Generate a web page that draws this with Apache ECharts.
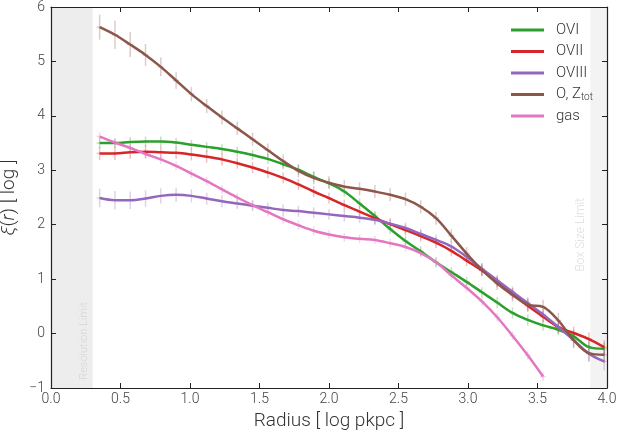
<!DOCTYPE html>
<html>
<head>
<meta charset="utf-8">
<script src="https://cdn.jsdelivr.net/npm/echarts@6/dist/echarts.min.js"></script>
<style>
html,body{margin:0;padding:0;background:#fff;}
#chart{width:617px;height:432px;}
</style>
</head>
<body>
<div id="chart"></div>
<script>
// Radius bins [log pkpc]
const radius = [0.35,0.46,0.57,0.68,0.79,0.90,1.01,1.12,1.23,1.34,1.45,1.56,1.67,1.78,1.89,2.00,2.11,2.22,2.33,2.44,2.55,2.66,2.77,2.88,2.99,3.10,3.21,3.32,3.43,3.54,3.65,3.76,3.87,3.98];

// xi(r) [log]
const ovi   = [3.50,3.50,3.52,3.53,3.53,3.51,3.47,3.43,3.39,3.34,3.28,3.21,3.11,3.01,2.88,2.76,2.61,2.39,2.16,1.92,1.70,1.51,1.31,1.13,0.95,0.76,0.57,0.38,0.25,0.15,0.07,-0.05,-0.25,-0.28];
const ovii  = [3.31,3.31,3.33,3.34,3.33,3.32,3.29,3.25,3.20,3.13,3.05,2.96,2.86,2.74,2.61,2.49,2.36,2.24,2.12,2.01,1.90,1.79,1.67,1.52,1.34,1.16,0.95,0.73,0.51,0.31,0.12,0.01,-0.10,-0.25];
const oviii = [2.49,2.45,2.45,2.48,2.53,2.55,2.53,2.48,2.43,2.39,2.35,2.31,2.27,2.25,2.22,2.19,2.16,2.13,2.09,2.02,1.94,1.83,1.72,1.60,1.41,1.19,0.98,0.77,0.56,0.35,0.12,-0.12,-0.37,-0.51];
const oZtot = [5.63,5.49,5.31,5.12,4.90,4.65,4.40,4.18,3.97,3.77,3.57,3.37,3.17,2.99,2.86,2.77,2.70,2.66,2.61,2.55,2.47,2.33,2.12,1.80,1.47,1.17,0.92,0.71,0.53,0.49,0.24,-0.12,-0.36,-0.39];
const gas   = [3.62,3.51,3.41,3.30,3.20,3.08,2.94,2.80,2.65,2.50,2.36,2.23,2.10,1.99,1.89,1.82,1.77,1.74,1.72,1.66,1.59,1.48,1.31,1.07,0.84,0.59,0.30,-0.04,-0.40,-0.79];

// error bar half-lengths
const errOvi   = [0.09,0.09,0.09,0.09,0.09,0.09,0.09,0.09,0.09,0.09,0.09,0.09,0.09,0.09,0.09,0.09,0.09,0.09,0.09,0.09,0.09,0.09,0.09,0.09,0.09,0.09,0.10,0.10,0.10,0.10,0.10,0.12,0.12,0.12];
const errOvii  = [0.12,0.12,0.12,0.12,0.11,0.11,0.11,0.11,0.11,0.10,0.10,0.10,0.10,0.10,0.10,0.10,0.10,0.10,0.10,0.10,0.10,0.10,0.10,0.10,0.10,0.10,0.10,0.10,0.10,0.10,0.11,0.12,0.12,0.13];
const errOviii = [0.17,0.17,0.16,0.15,0.14,0.13,0.12,0.11,0.11,0.10,0.10,0.10,0.10,0.10,0.10,0.10,0.10,0.10,0.10,0.10,0.10,0.10,0.10,0.10,0.10,0.10,0.10,0.10,0.10,0.11,0.12,0.13,0.15,0.17];
const errOZtot = [0.23,0.26,0.23,0.20,0.17,0.15,0.13,0.13,0.13,0.12,0.12,0.12,0.12,0.12,0.12,0.12,0.12,0.12,0.12,0.12,0.12,0.12,0.12,0.12,0.12,0.12,0.12,0.12,0.13,0.13,0.14,0.15,0.15,0.15];
const errGas   = [0.08,0.08,0.08,0.08,0.08,0.08,0.08,0.08,0.08,0.08,0.08,0.08,0.08,0.08,0.08,0.08,0.08,0.08,0.08,0.08,0.08,0.08,0.08,0.08,0.08,0.08,0.08,0.08,0.08,0.08];

const xTicks = [0.0,0.5,1.0,1.5,2.0,2.5,3.0,3.5,4.0];
const yTicks = [-1,0,1,2,3,4,5,6];
const resolutionLimit = [0.0, 0.3];
const boxSizeLimit = [3.88, 4.0];

const seriesDefs = [
  {name:'OVI', vals:ovi, err:errOvi, color:'#2ca02c'},
  {name:'OVII', vals:ovii, err:errOvii, color:'#d62728'},
  {name:'OVIII', vals:oviii, err:errOviii, color:'#9467bd'},
  {name:'O, Z{sub|tot}', vals:oZtot, err:errOZtot, color:'#8c564b'},
  {name:'gas', vals:gas, err:errGas, color:'#e377c2'}
];

const FONT = 'Roboto';
const FW = 300;
const chart = echarts.init(document.getElementById('chart'), null, {renderer:'canvas'});

const series = [];
seriesDefs.forEach(function(d){
  series.push({
    type:'custom',
    name: d.name + '_err',
    z: 1,
    silent: true,
    data: d.vals.map(function(v,i){ return [radius[i], v, d.err[i]]; }),
    renderItem: function(params, api){
      const x = api.value(0), y = api.value(1), e = api.value(2);
      const t = api.coord([x, y+e]);
      const b = api.coord([x, y-e]);
      const m = api.coord([x, y]);
      return {type:'group', children:[
        {type:'line', shape:{x1:t[0],y1:t[1],x2:b[0],y2:b[1]}, style:{stroke:d.color, lineWidth:1.5, opacity:0.3}},
        {type:'line', shape:{x1:m[0]-3,y1:m[1],x2:m[0]+3,y2:m[1]}, style:{stroke:d.color, lineWidth:1.5, opacity:0.3}}
      ]};
    }
  });
});
seriesDefs.forEach(function(d, idx){
  const s = {
    type:'line',
    name:d.name,
    z: 3,
    data: d.vals.map(function(v,i){ return [radius[i], v]; }),
    showSymbol:false,
    symbol:'none',
    smooth:0.35,
    lineStyle:{color:d.color, width:2.5},
    itemStyle:{color:d.color}
  };
  if (idx === 0) {
    s.markArea = {
      silent:true,
      z: 0,
      itemStyle:{color:'#eeeeee'},
      data:[
        [{xAxis:resolutionLimit[0], itemStyle:{color:'#ededed'}},{xAxis:resolutionLimit[1]}],
        [{xAxis:boxSizeLimit[0], itemStyle:{color:'#f3f3f3'}},{xAxis:boxSizeLimit[1]}]
      ]
    };
  }
  series.push(s);
});

const axisCommon = {
  axisLine:{show:true, onZero:false, lineStyle:{color:'#222', width:1.2}},
  axisTick:{show:true, inside:true, length:5, lineStyle:{color:'#222', width:1}},
  splitLine:{show:false}
};

const option = {
  animation:false,
  backgroundColor:'#fff',
  grid:{left:51, right:10, top:7, bottom:44, containLabel:false, outerBoundsMode:'none'},
  legend:{
    orient:'vertical',
    left:506, top:17,
    itemWidth:33, itemHeight:3,
    itemGap:5.5,
    icon:'rect',
    data: seriesDefs.map(function(d){ return d.name; }),
    formatter: function(n){ return n; },
    textStyle:{
      fontFamily:FONT, fontWeight:FW, fontSize:15, color:'#333', lineHeight:16, padding:[0,0,0,7],
      rich:{ sub:{fontFamily:FONT, fontWeight:FW, fontSize:10, color:'#333', verticalAlign:'bottom', padding:[6,0,0,0]} }
    }
  },
  xAxis:[
    Object.assign({}, axisCommon, {
      type:'value', min:xTicks[0], max:xTicks[xTicks.length-1], interval:0.5, position:'bottom',
      name:'Radius [ log pkpc ]', nameLocation:'middle', nameGap:24,
      nameTextStyle:{fontFamily:FONT, fontWeight:FW, fontSize:19, color:'#333'},
      axisLabel:{fontFamily:FONT, fontWeight:FW, fontSize:14, color:'#444', margin:4, formatter:function(v){ return v.toFixed(1); }}
    }),
    Object.assign({}, axisCommon, {
      type:'value', min:xTicks[0], max:xTicks[xTicks.length-1], interval:0.5, position:'top',
      axisLabel:{show:false}
    })
  ],
  yAxis:[
    Object.assign({}, axisCommon, {
      type:'value', min:yTicks[0], max:yTicks[yTicks.length-1], interval:1, position:'left',
      name:'{i|ξ}({i|r}) [ log ]', nameLocation:'middle', nameGap:28, nameRotate:90,
      nameTextStyle:{fontFamily:FONT, fontWeight:FW, fontSize:19, color:'#333',
        rich:{i:{fontFamily:FONT, fontWeight:FW, fontSize:19, fontStyle:'italic', color:'#333'}}},
      axisLabel:{fontFamily:FONT, fontWeight:FW, fontSize:14, color:'#444', margin:6, formatter:function(v){ return v < 0 ? '\u2212' + Math.abs(v) : String(v); }}
    }),
    Object.assign({}, axisCommon, {
      type:'value', min:yTicks[0], max:yTicks[yTicks.length-1], interval:1, position:'right',
      axisLabel:{show:false}
    })
  ],
  series: series
};
chart.setOption(option);

// Limit annotations placed through the axis scales
const resPos = chart.convertToPixel({xAxisIndex:0, yAxisIndex:0}, [0.24, -0.85]);
const boxPos = chart.convertToPixel({xAxisIndex:0, yAxisIndex:0}, [3.81, 1.14]);
chart.setOption({
  graphic:[
    {type:'text', x:resPos[0], y:resPos[1], rotation:Math.PI/2, z:10,
     style:{text:'Resolution Limit', fontFamily:FONT, fontWeight:FW, fontSize:11, fill:'#d6d6d6', align:'left', verticalAlign:'middle'}},
    {type:'text', x:boxPos[0], y:boxPos[1], rotation:Math.PI/2, z:10,
     style:{text:'Box Size Limit', fontFamily:FONT, fontWeight:FW, fontSize:12, fill:'#dedede', align:'left', verticalAlign:'middle'}}
  ]
});
</script>
</body>
</html>
